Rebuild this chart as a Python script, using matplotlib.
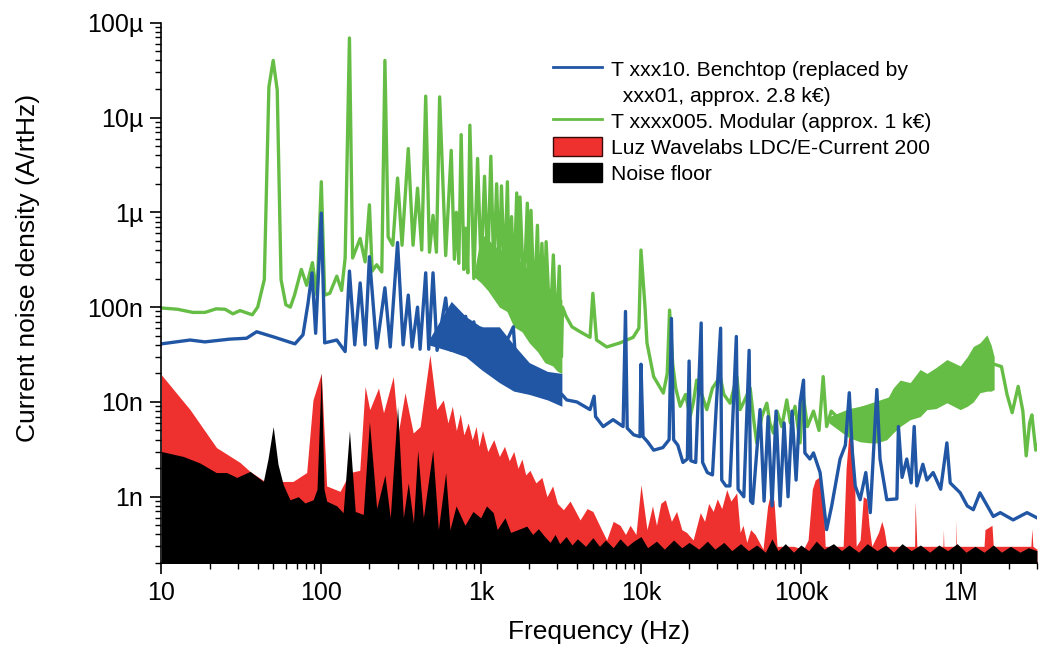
import numpy as np
import matplotlib
matplotlib.use("Agg")
import matplotlib.pyplot as plt
from matplotlib.lines import Line2D
from matplotlib.patches import Patch
from matplotlib.ticker import FixedLocator, FixedFormatter, LogLocator, NullFormatter

plt.rcParams['font.family'] = ['Liberation Sans', 'DejaVu Sans']

# noise densities in nA/rtHz, frequencies in Hz

# T xxxx005 modular driver
green_f = [10, 12.6, 15.7, 18.7, 22, 25, 28, 31, 37, 40, 44, 47, 50, 53, 56, 60, 64, 68, 75, 81,
           88, 94, 100, 105, 113, 125, 134, 141, 150, 157, 166, 175, 188, 200, 208, 222, 239, 250,
           262, 280, 300, 320, 350, 375, 400, 425, 450, 475, 500, 525, 550, 600, 650, 680, 700,
           725, 750, 780, 800, 825, 850, 900, 950, 1000, 1050, 1100, 1150, 1200, 1250, 1300, 1340,
           1400, 1460, 1500, 1550, 1600, 1670, 1710, 1750, 1850, 1945, 2000, 2050, 2150, 2250,
           2320, 2400, 2480, 2550, 2700, 2830, 2950, 3085, 3180, 3230, 3400, 3700, 4160, 4800,
           5000, 5270, 6110, 7400, 8930, 9700, 10000, 10300, 10600, 10900, 12000, 13800, 14600,
           15100, 15800, 16500, 17600, 19000, 20300, 21300, 22300, 24000, 25800, 28000, 31300,
           33000, 36100, 39800, 41700, 44000, 48200, 51000, 53000, 57000, 61300, 64000, 67400,
           71000, 76000, 81700, 86000, 92000, 99000, 103000, 110000, 120000, 130000, 138000,
           145000, 155000, 168000,
           1.62e6, 1.8e6, 1.95e6, 2.1e6, 2.29e6, 2.45e6, 2.57e6, 2.7e6, 2.79e6, 2.95e6, 3.0e6]
green_v = [98, 95, 88, 88, 96, 95, 85, 92, 83, 100, 195, 21000, 40000, 19500, 195, 106, 100, 134, 250, 170,
           295, 134, 2100, 134, 140, 212, 150, 330, 69000, 330, 420, 530, 300, 1200, 240, 280, 235, 40000,
           550, 450, 2300, 450, 4700, 450, 1800, 400, 16800, 380, 930, 380, 16500, 350, 4500, 320, 1000,
           290, 6600, 250, 680, 230, 8300, 200, 3700, 250, 2400, 260, 3900, 240, 2000, 220, 1900,
           200, 2100, 180, 900, 160, 1600, 150, 1450, 130, 1250, 120, 1050, 100, 730,
           90, 470, 80, 490, 60, 355, 50, 270, 30, 100, 80, 62, 55, 48,
           140, 45, 38, 42, 48, 60, 400, 200, 100, 42, 18.5, 12.4, 20,
           93, 25, 14, 9, 12, 7, 10, 17, 12, 8.3, 14, 18.5,
           12, 9.7, 18.5, 8.3, 10, 14, 6, 3.7, 7, 9.7, 6, 4.7,
           8, 5.5, 10.5, 6, 9, 3.7, 12.5, 5.5, 8, 5, 18.5,
           5.5, 8, 7,
           25, 23.6, 12, 7.7, 14.6, 8, 2.7, 6, 7.3, 3.1, 3.5]

# fast ripple of the modular driver, drawn as a band
green_band_f = [900, 1000, 1100, 1300, 1450, 1600, 1800, 2000, 2250, 2500, 2800, 3000, 3200]
green_band_lo = [210, 180, 150, 100, 90, 62, 55, 42, 34, 26, 24, 21, 20]
green_band_hi = [220, 600, 520, 400, 420, 330, 300, 240, 230, 170, 150, 130, 120]
green_hf_f = [150e3, 200e3, 235e3, 270e3, 300e3, 345e3, 378e3, 418e3, 483e3, 558e3, 615e3, 700e3,
              820e3, 994e3, 1.1e6, 1.2e6, 1.32e6, 1.46e6, 1.55e6, 1.62e6]
green_hf_lo = [6, 4.2, 3.8, 3.7, 3.7, 4, 4.7, 5.5, 6.5, 7, 8.3, 8.5, 9.8, 8.3, 9, 10, 12.5, 13, 13, 13.5]
green_hf_hi = [7, 8.5, 9, 9.5, 10, 10.5, 14, 17, 16, 22, 20, 23, 28, 24, 30, 38.5, 42, 51, 40, 30]

# T xxx10 benchtop driver
blue_f = [10, 15.1, 18.7, 26.8, 34.1, 39.4, 51.3, 68.4, 76.8, 82.6, 87.5, 92.2, 100, 105, 125, 141,
          150, 162, 175, 188, 200, 222, 250, 270, 300, 325, 350, 370, 400, 415, 450, 470, 500, 530,
          600, 650, 700, 750, 800, 850, 900, 950, 1000, 1300, 1590, 1650, 2000, 2600, 3200, 3430,
          3970, 4800, 5090, 5200, 5800, 6690, 7730, 8000, 8200, 9000, 9860, 10000, 10300, 11000,
          12000, 13700, 15000, 15500, 16000, 17000, 18300, 19500, 20000, 20500, 22000, 23800, 24300,
          26000, 28000, 31500, 32000, 34000, 36000, 39500, 40500, 44000, 47500, 48500, 50000,
          55600, 58900, 62400, 66100, 70000, 74200, 78600, 83200, 88100, 93400, 99000, 104000,
          106000, 114000, 120000, 132000, 145000, 156000, 176000, 190000, 201000, 210000,
          219000, 235000, 255000, 272000, 299000, 313000, 345000, 399000, 408000, 430000, 460000,
          490000, 512000, 532000, 580000, 615000, 673000, 750000, 820000, 860000, 994000, 1.1e6,
          1.2e6, 1.32e6, 1.6e6, 1.77e6, 2.13e6, 2.6e6, 3.0e6]
blue_v = [41, 45, 43, 46, 47, 55, 48, 41, 51, 110, 230, 53, 980, 42, 45, 34,
          240, 40, 180, 40, 340, 37, 160, 38, 480, 40, 134, 38, 100, 36, 230, 36, 230, 35,
          125, 35, 90, 33, 80, 32, 70, 30, 60, 30, 62, 25, 20, 15, 12, 10.5,
          10, 8.3, 11.5, 7, 5.5, 6.5, 5.5, 90, 5.3, 4.5, 4.3, 25, 4.3, 3.8,
          3.1, 3.3, 4, 76, 4, 3.5, 2.3, 2.5, 27, 2.4, 2.3, 68, 2.3,
          1.8, 1.7, 60, 1.5, 1.3, 1.3, 49, 1.2, 1.0, 35, 0.9, 0.85,
          8.3, 0.9, 7, 0.8, 8, 0.8, 6, 1.0, 8, 1.5, 10, 17,
          2.9, 2.5, 2.9, 1.8, 0.45, 0.8, 2.5, 3.5, 12.5, 3,
          1.3, 0.93, 1.8, 0.68, 13.5, 2.5, 0.93, 0.95, 5.5, 1.6, 2.5,
          1.4, 5.5, 1.3, 2.2, 1.5, 1.8, 1.2, 3.7, 1.4, 1.1, 0.8,
          0.73, 1.1, 0.62, 0.68, 0.57, 0.68, 0.6]
blue_band_f = [470, 650, 800, 1000, 1300, 1600, 2000, 2600, 3200]
blue_band_lo = [40, 34, 30, 22, 16, 13, 12, 10.5, 9]
blue_band_hi = [45, 115, 80, 62, 62, 40, 26, 21, 20]

# Luz Wavelabs LDC/E-Current 200
luz_f = [10, 15.1, 22.1, 31, 35.8, 44.4, 56.5, 66.5, 81, 88.7, 100, 108, 131, 151, 174, 188, 201,
         228, 245, 282, 303, 334, 376, 415, 478, 527, 580, 620, 660, 700, 740, 780, 830, 880, 930,
         970, 1020, 1100, 1200, 1300, 1400, 1500, 1600, 1700, 1800, 1900, 2020, 2200, 2400, 2580,
         2800, 3000, 3270, 3600, 4160, 4600, 5000, 5500, 6100, 6700, 7400, 8000, 8550, 9300,
         10000, 10900, 11800, 12500, 13300, 14200, 15500, 16700, 18000, 19300, 21200, 23500, 25000,
         26500, 28300, 30000, 32000, 34400, 36500, 39700, 41700, 43500, 45900, 48500, 51800, 58000,
         62000, 65000, 68000, 71000, 90000, 104000, 111000, 118000,
         123000, 132000, 138000, 142000, 184000, 192000, 205000, 216000, 222000, 235000, 246000,
         259000, 267000, 278000, 306000, 321000, 332000, 345000, 515000, 519000, 532000, 775000,
         780000, 785000, 930000, 933000, 940000, 1.4e6, 1.42e6, 1.57e6, 1.6e6, 2.75e6, 2.79e6,
         2.83e6, 3.0e6]
luz_v = [19.3, 8.3, 3.3, 2.3, 1.85, 1.45, 1.45, 1.45, 1.8, 10.5, 20, 1.3, 1.14, 1.8, 1.9, 14.6, 8.3,
         14, 7.7, 18.5, 4.7, 12.5, 4.7, 5.5, 31.5, 8.3, 10.5, 6, 9, 5, 7.5, 4.5, 6, 4, 5.5,
         3.4, 5, 3, 4, 2.66, 3.4, 2.4, 3, 2, 2.5, 1.7, 1.9, 1.4, 1.6, 1.0,
         1.3, 0.85, 0.73, 0.9, 0.57, 0.75, 0.7, 0.5, 0.35, 0.55, 0.5, 0.4, 0.5, 0.4,
         1.34, 0.45, 0.8, 0.5, 0.85, 0.93, 0.55, 0.7, 0.45, 0.42, 0.35, 0.68, 0.55,
         0.85, 0.7, 0.95, 0.75, 1.19, 0.9, 1.1, 0.42, 0.5, 0.33, 0.45, 0.4, 0.28,
         0.8, 1.14, 0.9, 0.3, 0.3, 0.28, 0.35, 1.2,
         1.5, 1.64, 1.0, 0.3, 0.3, 2.0, 7.9, 2.0, 0.3, 0.35, 1.0,
         0.95, 0.5, 0.3, 0.42, 0.55, 0.45, 0.3, 0.3, 0.9, 0.3, 0.3,
         0.45, 0.3, 0.3, 0.57, 0.3, 0.3, 0.45, 0.5, 0.3, 0.3, 0.46,
         0.3, 0.28]

# measurement noise floor
floor_f = [10, 13.7, 17.4, 22, 25.6, 29.6, 35.8, 43.4, 46.4, 50, 53.6, 57.8, 63.7, 71.8, 79, 89, 94,
           100, 104, 108, 125, 137, 150, 163, 183, 200, 222, 250, 270, 300, 326, 350, 377, 401, 435,
           498, 540, 600, 638, 697, 792, 889, 993, 1080, 1190, 1260, 1410, 1530, 1930, 2100, 2280,
           2500, 2700, 2900, 3100, 3400, 3700, 4000, 4500, 5000, 5500, 6000, 6700, 7400, 8200, 9000,
           10000, 11000, 12500, 14000, 16000, 18000, 20000, 23000, 26000, 29000, 33000, 37000,
           42000, 47000, 53000, 60000, 66000, 72000, 80000, 90000, 100000, 112000, 125000, 140000,
           160000, 180000, 200000, 230000, 260000, 300000, 340000, 380000, 430000, 490000, 560000,
           640000, 730000, 830000, 950000, 1.08e6, 1.23e6, 1.4e6, 1.6e6, 1.8e6, 2.05e6, 2.35e6,
           2.65e6, 3e6]
floor_v = [3.0, 2.66, 2.27, 1.8, 1.8, 1.6, 1.85, 1.45, 2.5, 5.5, 2.2, 1.34, 0.93, 1.0, 0.86, 0.93, 1.2,
           20.4, 1.2, 0.9, 0.8, 0.68, 5.0, 0.7, 0.65, 6.2, 0.75, 1.7, 0.6, 9.0, 0.6, 1.4, 0.53, 3.1, 0.6,
           3.1, 0.45, 1.8, 0.45, 0.8, 0.5, 0.7, 0.6, 0.8, 0.68, 0.45, 0.6, 0.42, 0.49, 0.4, 0.46,
           0.38, 0.33, 0.4, 0.32, 0.38, 0.31, 0.36, 0.3, 0.37, 0.3, 0.35, 0.29, 0.36, 0.3, 0.34,
           0.38, 0.29, 0.34, 0.28, 0.35, 0.29, 0.33, 0.28, 0.34, 0.28, 0.33, 0.27,
           0.32, 0.27, 0.31, 0.26, 0.36, 0.27, 0.32, 0.26, 0.31, 0.27, 0.34, 0.28,
           0.32, 0.27, 0.31, 0.26, 0.32, 0.27, 0.31, 0.26, 0.32, 0.27, 0.31,
           0.26, 0.31, 0.27, 0.32, 0.26, 0.3, 0.26, 0.31, 0.26, 0.3, 0.26,
           0.29, 0.27]

x_ticks = [10, 100, 1e3, 1e4, 1e5, 1e6]
x_labels = ['10', '100', '1k', '10k', '100k', '1M']
y_ticks = [1e-9, 1e-8, 1e-7, 1e-6, 1e-5, 1e-4]
y_labels = ['1n', '10n', '100n', '1µ', '10µ', '100µ']

blue = '#2156a5'
green = '#66bd45'
red = '#ee312e'

nA = 1e-9
bottom = 1e-12

fig = plt.figure(figsize=(10.39, 6.53), dpi=100)
ax = fig.add_axes([0.1554, 0.1378, 0.8426, 0.8274])

ax.fill_between(luz_f, bottom, np.array(luz_v) * nA, color=red, lw=0)
ax.fill_between(floor_f, bottom, np.array(floor_v) * nA, color='black', lw=0)

ax.fill_between(green_band_f, np.array(green_band_lo) * nA, np.array(green_band_hi) * nA, color=green, lw=0)
ax.fill_between(green_hf_f, np.array(green_hf_lo) * nA, np.array(green_hf_hi) * nA, color=green, lw=0)
ax.plot(green_f, np.array(green_v) * nA, color=green, lw=2.4)

ax.fill_between(blue_band_f, np.array(blue_band_lo) * nA, np.array(blue_band_hi) * nA, color=blue, lw=0)
ax.plot(blue_f, np.array(blue_v) * nA, color=blue, lw=2.4)

ax.set_xscale('log')
ax.set_yscale('log')
ax.set_xlim(10, 3e6)
ax.set_ylim(2e-10, 1e-4)

ax.xaxis.set_major_locator(FixedLocator(x_ticks))
ax.xaxis.set_major_formatter(FixedFormatter(x_labels))
ax.yaxis.set_major_locator(FixedLocator(y_ticks))
ax.yaxis.set_major_formatter(FixedFormatter(y_labels))
for axis in (ax.xaxis, ax.yaxis):
    axis.set_minor_locator(LogLocator(base=10, subs=np.arange(2, 10), numticks=20))
    axis.set_minor_formatter(NullFormatter())

ax.tick_params(which='major', direction='out', length=8, width=1.2, labelsize=18, pad=5)
ax.tick_params(which='minor', direction='out', length=4, width=1)
ax.spines['top'].set_visible(False)
ax.spines['right'].set_visible(False)
ax.spines['left'].set_linewidth(1.2)
ax.spines['bottom'].set_linewidth(1.2)

ax.set_xlabel('Frequency (Hz)', fontsize=19)
ax.set_ylabel('Current noise density (A/rtHz)', fontsize=19)
ax.xaxis.set_label_coords(0.5, -0.105)
ax.yaxis.set_label_coords(-0.139, 0.546)

handles = [Line2D([], [], color=blue, lw=2),
           Line2D([], [], color='none'),
           Line2D([], [], color=green, lw=2),
           Patch(facecolor=red, edgecolor='#3a0a0a', lw=1),
           Patch(facecolor='black', edgecolor='black')]
labels = ['T xxx10. Benchtop (replaced by',
          '  xxx01, approx. 2.8 k€)',
          'T xxxx005. Modular (approx. 1 k€)',
          'Luz Wavelabs LDC/E-Current 200',
          'Noise floor']
fig.legend(handles, labels, loc='upper left', bbox_to_anchor=(553 / 1039, 1 - 59 / 653),
           frameon=False, fontsize=15.2, handlelength=2.3, handleheight=1.0,
           handletextpad=0.45, labelspacing=0.25, borderpad=0, borderaxespad=0)

fig.savefig('out.png', dpi=100)
